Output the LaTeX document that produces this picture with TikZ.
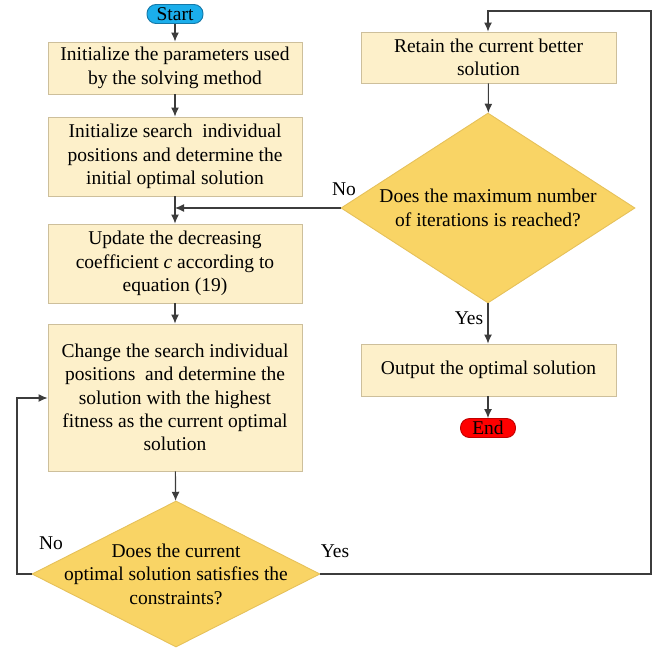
\documentclass[tikz,border=0pt]{standalone}
\usepackage{fontspec}
\setmainfont{Liberation Serif}
\usetikzlibrary{shapes.geometric,arrows.meta}
\definecolor{boxfill}{HTML}{FDF0CA}
\definecolor{boxline}{HTML}{CDBF9B}
\definecolor{diafill}{HTML}{F9D465}
\definecolor{dialine}{HTML}{E6C15A}
\definecolor{startfill}{HTML}{1BAEEB}
\definecolor{startline}{HTML}{1478A8}
\definecolor{endfill}{HTML}{FF0000}
\definecolor{endline}{HTML}{C00000}
\definecolor{conn}{HTML}{3C3C3C}
\tikzset{
  every node/.style={font=\fontsize{19.5}{23.4}\selectfont},
  procbox/.style={draw=boxline, fill=boxfill, line width=0.9pt, rectangle, inner sep=0pt, align=center},
  decision/.style={draw=dialine, fill=diafill, line width=0.9pt, diamond, inner sep=0pt},
  terminal/.style={rectangle, rounded corners=9pt, line width=0.9pt, inner sep=0pt, minimum width=56pt, minimum height=19pt},
  flow/.style={draw=conn, line width=1.1pt, -{Latex[length=9pt,width=8pt]}},
  lbl/.style={inner sep=0pt}
}
\begin{document}
\begin{tikzpicture}[x=1pt,y=-1pt]
\useasboundingbox (0,0) rectangle (658,648);
% left column
\node[terminal, draw=startline, fill=startfill] (start) at (175,14) {Start};
\node[procbox, minimum width=254pt, minimum height=52pt] (b1) at (175,68) {Initialize the parameters used\\by the solving method};
\node[procbox, minimum width=254pt, minimum height=79pt] (b2) at (175,156.5) {Initialize search\ \ individual\\positions and determine the\\initial optimal solution};
\coordinate (merge) at (175,208);
\node[procbox, minimum width=254pt, minimum height=79pt] (b3) at (175,263.5) {Update the decreasing\\coefficient \textit{c} according to\\equation (19)};
\node[procbox, minimum width=254pt, minimum height=147pt] (b4) at (175,397.5) {Change the search individual\\positions\ \ and determine the\\solution with the highest\\fitness as the current optimal\\solution};
\node[decision, minimum width=288pt, minimum height=146pt] (d1) at (176,574) {};
\node[align=center, inner sep=0pt] (d1t) at (d1.center) {Does the current\\optimal solution satisfies the\\constraints?};
% right column
\node[procbox, minimum width=255pt, minimum height=51pt] (retain) at (488.5,57.5) {Retain the current better\\solution};
\node[decision, minimum width=294pt, minimum height=190pt] (d2) at (488,208) {};
\node[align=center, inner sep=0pt] (d2t) at (d2.center) {Does the maximum number\\of iterations is reached?};
\node[procbox, minimum width=255pt, minimum height=52pt] (out) at (488.5,370) {Output the optimal solution};
\node[terminal, draw=endline, fill=endfill, minimum width=55pt] (end) at (488,428) {End};
% corner coordinates
\coordinate (lc1) at (17,574);
\coordinate (lc2) at (17,398);
\coordinate (rc1) at (651,574);
\coordinate (rc2) at (651,11);
\coordinate (rc3) at (488,11);
% connectors
\draw[flow] (start) -- (b1);
\draw[flow] (b1) -- (b2);
\draw[flow] (b2) -- (b3);
\draw[flow] (b3) -- (b4);
\draw[flow] (b4) -- (d1);
\draw[flow] (d2.west) -- (merge);
\draw[flow] (d1.west) -- (lc1) -- (lc2) -- (b4.west |- lc2);
\draw[flow] (d1.east) -- (rc1) -- (rc2) -- (rc3) -- (retain.north -| rc3);
\draw[flow] (retain) -- (d2);
\draw[flow] (d2.south) -- (out.north -| d2.south);
\draw[flow] (out.south -| end.north) -- (end);
% labels
\node[lbl] (no2) at (344,189) {No};
\node[lbl] (yes2) at (469,318) {Yes};
\node[lbl] (no1) at (51,543) {No};
\node[lbl] (yes1) at (335,551) {Yes};
\end{tikzpicture}
\end{document}
